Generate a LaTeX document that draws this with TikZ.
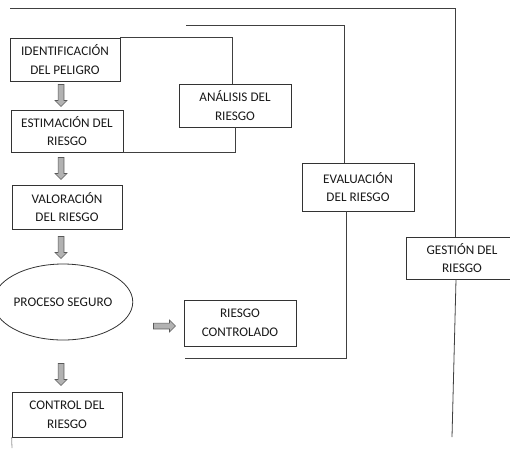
\documentclass[tikz,border=0pt]{standalone}
\usepackage{fontspec}
\setmainfont{Carlito}
\usetikzlibrary{shapes.geometric}
\usetikzlibrary{shapes.arrows}
\usetikzlibrary{calc}

\tikzset{
  caja/.style={draw=black!80, line width=0.8pt, align=center, inner sep=0pt,
    minimum width=110pt, minimum height=43pt},
  linea/.style={draw=black!75, line width=0.8pt},
  flecha/.style={single arrow, draw=black!65, fill=black!30, line width=0.6pt,
    inner sep=2.6pt, minimum width=12pt, minimum height=22pt,
    single arrow head extend=3pt, single arrow head indent=0pt},
}

\begin{document}
\begin{tikzpicture}[x=1pt, y=-1pt, font=\fontsize{13.2}{18.5}\selectfont, text=black!90]
  \useasboundingbox (0,0) rectangle (510,448);

  \node[caja] (iden) at (65,59.5) {IDENTIFICACIÓN\\DEL PELIGRO};
  \node[caja, minimum width=112pt, minimum height=42pt] (esti) at (67,131) {ESTIMACIÓN DEL\\RIESGO};
  \node[caja, minimum height=44pt] (valo) at (67,207) {VALORACIÓN\\DEL RIESGO};
  \node[ellipse, draw=black!80, line width=0.8pt, minimum width=122pt, minimum height=76pt,
    inner sep=0pt] (proc) at (63,302) {PROCESO SEGURO};
  \node[caja, minimum height=45pt] (cont) at (67,414.5) {CONTROL DEL\\RIESGO};

  \node[caja, minimum width=112pt] (anal) at (235,105.5) {ANÁLISIS DEL\\RIESGO};
  \node[caja, minimum width=112pt, minimum height=48pt] (eval) at (358,187) {EVALUACIÓN\\DEL RIESGO};
  \node[caja, minimum width=112pt, minimum height=42pt] (gest) at (462,258) {GESTIÓN DEL\\RIESGO};
  \node[caja, minimum width=112pt, minimum height=46pt] (riec) at (240,323) {RIESGO\\CONTROLADO};

  \node[flecha, shape border rotate=270] (f1) at (61,94) {};
  \node[flecha, shape border rotate=270] (f2) at (61,167) {};
  \node[flecha, shape border rotate=270] (f3) at (61,246) {};
  \node[flecha, shape border rotate=270] (f4) at (61,373) {};
  \node[flecha] (f5) at (163,326) {};

  \coordinate (g1) at (10,8);
  \coordinate (g2) at (458,437);
  \coordinate (e1) at (186,25);
  \coordinate (e2) at (185,358);
  \coordinate (c1) at (12,448);

  \draw[linea] (iden.north east) -- ($(iden.north east -| anal.north)+(-3,0)$) -- ($(anal.north)+(-3,0)$);
  \draw[linea] (anal.south) -- (anal.south |- esti.south east) -- (esti.south east);
  \draw[linea] (e1) -- ($(e1 -| eval.north)+(-14,0)$) -- ($(eval.north)+(-14,0)$);
  \draw[linea] ($(eval.south)+(-12,0)$) -- ($(e2 -| eval.south)+(-12,0)$) -- (e2);
  \draw[linea] (g1) -- ($(g1 -| gest.north)+(-7,0)$) -- ($(gest.north)+(-7,0)$);
  \draw[linea] ($(gest.south)+(-6,0)$) -- ($(g2)+(-6,0)$);
  \draw[linea, draw=black!40] (cont.south west) -- (c1);
\end{tikzpicture}
\end{document}
